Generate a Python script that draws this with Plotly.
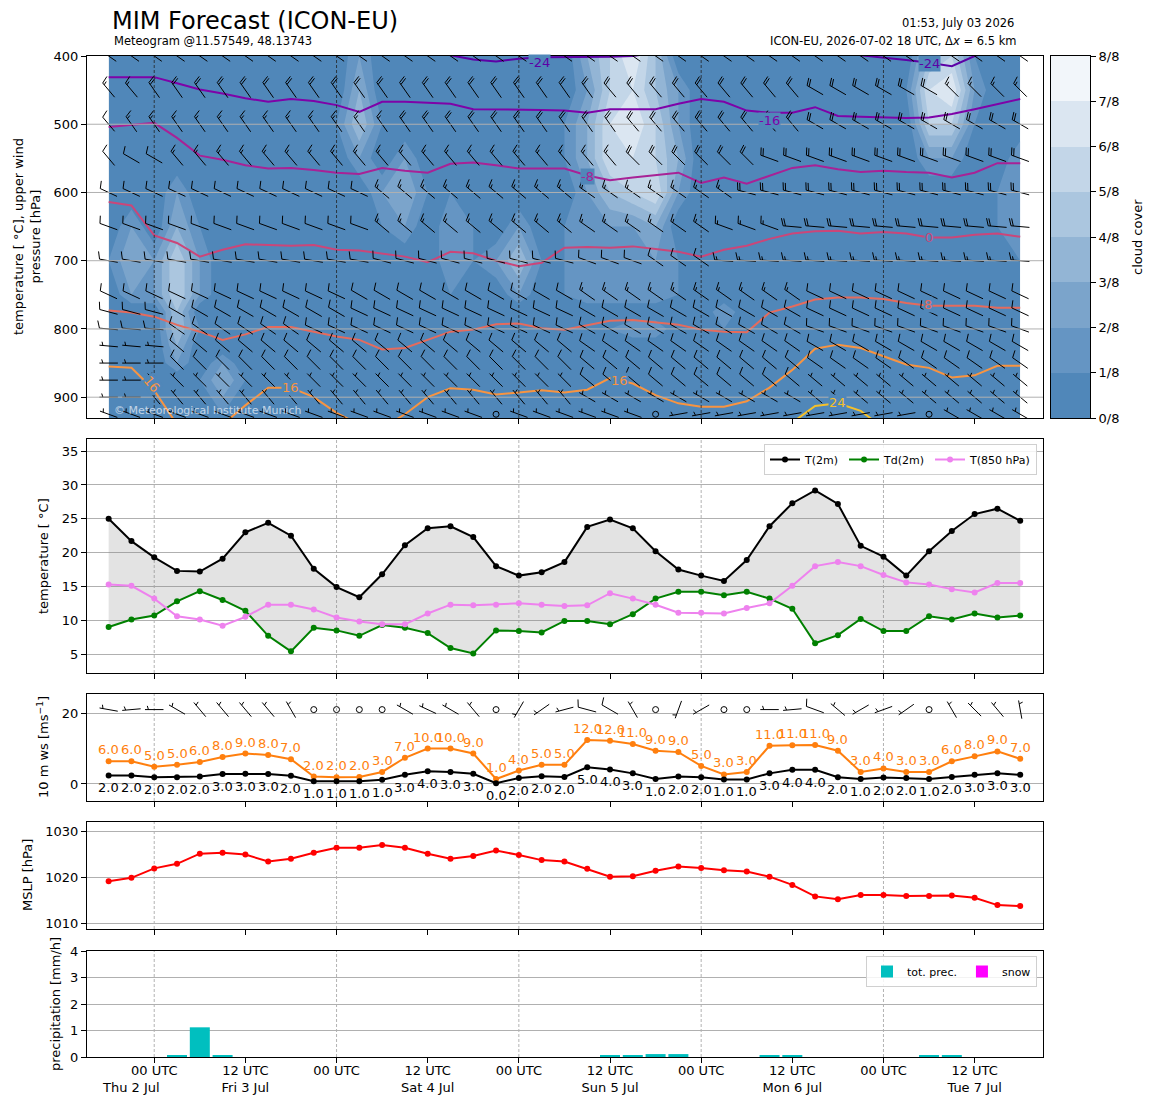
import numpy as np
import pandas as pd
import plotly.graph_objects as go

# ------------------------------------------------------------------ data
valid_times = pd.date_range("2026-07-02 18:00", periods=41, freq="3h")
ref_time = pd.Timestamp("2026-07-03 00:00")

t2m = [25.0, 21.7, 19.3, 17.3, 17.2, 19.1, 23.0, 24.4, 22.5, 17.6,
       14.9, 13.4, 16.8, 21.1, 23.6, 23.9, 22.3, 18.0, 16.6, 17.1,
       18.6, 23.8, 24.9, 23.6, 20.2, 17.5, 16.6, 15.8, 18.9, 23.9,
       27.3, 29.2, 27.2, 21.0, 19.4, 16.6, 20.2, 23.2, 25.7, 26.5, 24.7]
td2m = [9.0, 10.1, 10.7, 12.8, 14.3, 13.0, 11.4, 7.7, 5.4, 8.9,
        8.5, 7.7, 9.3, 8.9, 8.1, 5.9, 5.1, 8.5, 8.4, 8.2,
        9.9, 9.9, 9.4, 10.9, 13.2, 14.2, 14.2, 13.7, 14.2, 13.2,
        11.7, 6.6, 7.8, 10.2, 8.4, 8.4, 10.6, 10.1, 11.0, 10.4, 10.7]
t850 = [15.3, 15.1, 13.2, 10.6, 10.1, 9.2, 10.5, 12.3, 12.3, 11.6,
        10.4, 9.8, 9.4, 9.4, 11.0, 12.3, 12.2, 12.3, 12.5, 12.3,
        12.1, 12.2, 14.0, 13.2, 12.3, 11.1, 11.1, 11.0, 11.8, 12.5,
        15.1, 18.0, 18.6, 18.0, 16.7, 15.6, 15.3, 14.6, 14.1, 15.5, 15.5]

ws10_mean = [2.4, 2.4, 1.9, 1.9, 2.1, 2.8, 2.9, 2.8, 2.3, 0.8,
             0.8, 0.8, 1.2, 2.6, 3.6, 3.4, 2.9, 0.2, 1.7, 2.2,
             2.0, 4.7, 4.1, 3.0, 1.4, 2.1, 1.9, 1.3, 1.3, 3.0,
             4.0, 4.0, 1.9, 1.4, 1.8, 1.7, 1.4, 2.0, 2.6, 3.0, 2.6]
ws10_gust = [6.4, 6.4, 4.9, 5.4, 6.2, 7.6, 8.6, 8.2, 7.0, 2.1,
             1.9, 2.0, 3.4, 7.4, 10.0, 10.0, 8.6, 1.4, 3.8, 5.4,
             5.4, 12.4, 12.2, 11.3, 9.4, 9.0, 5.1, 2.7, 3.4, 10.8,
             10.9, 11.0, 9.4, 3.4, 4.4, 3.4, 3.4, 6.4, 7.8, 9.2, 7.1]
# 10 m wind barbs: direction [deg] and speed [kt]
wind10_dir = [280, 265, 270, 300, 320, 320, 320, 320, 330, 0,
              0, 0, 0, 300, 295, 300, 320, 0, 210, 235,
              255, 285, 300, 330, 0, 200, 240, 0, 0, 270,
              265, 290, 310, 240, 250, 235, 0, 330, 315, 320, 350]
wind10_kt = [5, 5, 5, 5, 5, 5, 5, 5, 5, 0,
             0, 0, 0, 5, 5, 5, 5, 0, 5, 5,
             5, 10, 10, 5, 0, 5, 5, 0, 0, 5,
             5, 10, 5, 5, 5, 5, 0, 5, 5, 5, 5]

mslp = [1019.1, 1019.85, 1021.9, 1022.9, 1025.1, 1025.3, 1024.9, 1023.4, 1024.0, 1025.3,
        1026.4, 1026.4, 1027.0, 1026.4, 1025.1, 1024.0, 1024.6, 1025.8, 1024.8, 1023.7,
        1023.4, 1021.8, 1020.1, 1020.2, 1021.4, 1022.3, 1022.0, 1021.5, 1021.2, 1020.1,
        1018.3, 1015.8, 1015.2, 1016.1, 1016.1, 1015.9, 1015.9, 1016.0, 1015.5, 1013.9, 1013.7]

precip_total = [0, 0, 0, 0.04, 1.12, 0.04, 0, 0, 0, 0,
                0, 0, 0, 0, 0, 0, 0, 0, 0, 0,
                0, 0, 0.04, 0.04, 0.11, 0.11, 0, 0, 0, 0.04,
                0.04, 0, 0, 0, 0, 0, 0.04, 0.04, 0, 0, 0]
precip_snow = [0, 0, 0, 0, 0, 0, 0, 0, 0, 0,
               0, 0, 0, 0, 0, 0, 0, 0, 0, 0,
               0, 0, 0, 0, 0, 0, 0, 0, 0, 0,
               0, 0, 0, 0, 0, 0, 0, 0, 0, 0, 0]

# isotherms: pressure [hPa] of each temperature level per valid time
isotherms = {
    -24: [390, 390, 390, 390, 390, 390, 390, 390, 390, 390,
          390, 390, 390, 390, 390, 399, 405, 408, 404, 402,
          402, 402, 401, 400, 395, 390, 390, 390, 390, 390,
          390, 390, 390, 399, 402, 406, 410, 415, 400, 390, 390],
    -16: [431, 431, 431, 440, 449, 455, 462, 467, 463, 466,
          472, 482, 467, 467, 468, 470, 478, 478, 478, 479,
          480, 483, 478, 478, 478, 470, 463, 467, 480, 483,
          483, 475, 488, 489, 490, 491, 490, 485, 478, 470, 463],
    -8: [504, 501, 498, 520, 546, 552, 560, 565, 564, 567,
         571, 573, 564, 568, 571, 558, 556, 560, 565, 565,
         565, 575, 582, 578, 575, 571, 586, 578, 587, 575,
         564, 560, 566, 570, 568, 570, 571, 578, 571, 557, 557],
    0: [614, 619, 663, 674, 694, 684, 676, 677, 678, 677,
        684, 685, 690, 694, 702, 687, 689, 700, 708, 703,
        681, 680, 681, 679, 683, 687, 694, 684, 678, 668,
        660, 657, 656, 660, 658, 660, 666, 666, 662, 660, 665],
    8: [773, 776, 782, 794, 804, 816, 808, 797, 797, 804,
        811, 816, 830, 828, 816, 804, 801, 793, 792, 799,
        801, 794, 788, 787, 790, 794, 801, 804, 805, 776,
        767, 757, 754, 754, 756, 762, 766, 766, 766, 769, 769],
    16: [855, 857, 890, 940, 950, 940, 912, 886, 886, 900,
         923, 940, 945, 925, 900, 887, 889, 896, 893, 890,
         893, 889, 872, 880, 897, 909, 914, 914, 906, 886,
         860, 829, 823, 828, 840, 852, 857, 871, 868, 854, 854],
    24: [950, 950, 950, 950, 950, 950, 950, 950, 950, 950,
         950, 950, 950, 950, 950, 950, 950, 950, 950, 950,
         950, 950, 950, 950, 950, 950, 950, 950, 950, 950,
         937, 913, 909, 920, 945, 950, 950, 950, 950, 950, 950],
}
isotherm_colors = {-24: "#5c01a6", -16: "#7e03a8", -8: "#a82296", 0: "#cb4679",
                   8: "#e56b5d", 16: "#f89441", 24: "#f4c02a"}
# contour labels: (temperature, valid-time index, pressure, angle)
isotherm_labels = [(-24, 18.9, 410, 0), (-24, 36.0, 411, 0), (-16, 29.0, 494, 0),
                   (-8, 21.0, 577, 0), (0, 36.0, 666, 0), (8, 35.95, 764, 0),
                   (16, 1.9, 882, 50), (16, 8.0, 886, 0), (16, 22.4, 875, 0),
                   (24, 32.0, 908, 0)]

# cloud cover [octas], sparse cells: (valid-time index, pressure, octas)
cloud_levels = [400, 450, 500, 550, 600, 650, 700, 750, 775, 800, 825, 850, 875, 900, 925, 950]
cloud_cells = [
    (0, 700, 1), (1, 650, 2), (1, 700, 3), (1, 750, 2),
    (2, 700, 2), (2, 750, 2), (3, 600, 2), (3, 650, 3), (3, 700, 5), (3, 750, 5),
    (3, 775, 4), (3, 800, 4), (3, 825, 3), (3, 850, 2), (4, 650, 1), (4, 700, 2),
    (4, 750, 2), (4, 800, 1),
    (5, 850, 2), (5, 875, 3), (5, 900, 2), (4, 875, 1), (6, 875, 1), (4, 925, 1), (5, 925, 1),
    (11, 400, 2), (11, 450, 3), (11, 500, 4), (11, 550, 2), (10, 500, 1), (12, 500, 1),
    (12, 600, 2), (13, 550, 2), (13, 600, 3), (13, 650, 2), (14, 600, 1), (12, 650, 1),
    (15, 600, 1), (15, 650, 2), (15, 700, 2), (16, 650, 1), (16, 700, 1), (15, 750, 1),
    (17, 700, 2), (18, 650, 2), (18, 700, 4), (18, 750, 2), (19, 700, 1),
    (20, 500, 1), (20, 550, 1), (20, 650, 1), (20, 700, 1), (20, 750, 1),
    (21, 400, 3), (21, 450, 2), (21, 500, 3), (21, 550, 3), (21, 600, 2), (21, 650, 2),
    (21, 700, 2), (21, 750, 2),
    (22, 400, 5), (22, 450, 5), (22, 500, 6), (22, 550, 6), (22, 600, 4), (22, 650, 2),
    (22, 700, 2), (22, 750, 2), (22, 800, 1), (22, 850, 1),
    (23, 400, 7), (23, 450, 6), (23, 500, 7), (23, 550, 6), (23, 600, 5), (23, 650, 2),
    (23, 700, 2), (23, 750, 2), (23, 800, 2),
    (24, 400, 4), (24, 450, 4), (24, 500, 5), (24, 550, 5), (24, 600, 6), (24, 650, 3),
    (24, 700, 2), (24, 750, 2), (24, 800, 2), (24, 850, 1),
    (25, 450, 2), (25, 500, 2), (25, 550, 3), (25, 600, 2), (25, 700, 1), (25, 750, 1),
    (25, 850, 1), (26, 750, 1), (27, 775, 2), (27, 800, 1), (28, 800, 1),
    (35, 450, 1), (36, 400, 4), (36, 450, 6), (36, 500, 5), (36, 550, 2),
    (37, 400, 5), (37, 450, 7), (37, 500, 5), (37, 550, 2),
    (38, 400, 1), (38, 450, 2), (38, 500, 1),
    (39, 600, 1), (39, 650, 1), (40, 550, 2), (40, 600, 2), (40, 650, 2), (40, 700, 1),
    (39, 700, 1), (36, 700, 1),
]
cloud_colors = ["#5087b9", "#6595c3", "#7ba4cb", "#93b5d5",
                "#abc6df", "#c3d6e8", "#dbe6f1", "#f2f6fa"]
cloud_ticktext = ["0/8", "1/8", "2/8", "3/8", "4/8", "5/8", "6/8", "7/8", "8/8"]

# upper winds, run-length per level: (number of times, direction deg, speed kt)
upper_wind_runs = {
    400: [(41, 305, 25)],
    450: [(2, 320, 15), (20, 325, 20), (9, 320, 20), (6, 300, 20), (4, 315, 15)],
    500: [(1, 320, 10), (12, 325, 15), (10, 325, 20), (8, 320, 20), (10, 300, 20)],
    550: [(1, 320, 10), (2, 300, 10), (20, 320, 15), (6, 315, 20), (12, 290, 20)],
    600: [(12, 295, 10), (9, 310, 15), (7, 305, 15), (13, 285, 20)],
    650: [(12, 290, 10), (9, 310, 15), (6, 305, 15), (3, 290, 15), (11, 275, 20)],
    700: [(12, 280, 10), (9, 285, 10), (3, 290, 10), (3, 305, 10), (14, 275, 15)],
    750: [(11, 295, 10), (10, 300, 10), (10, 305, 15), (10, 295, 10)],
    775: [(3, 285, 10), (8, 300, 10), (10, 295, 10), (10, 300, 10), (10, 295, 10)],
    800: [(3, 275, 10), (6, 305, 10), (12, 295, 10), (10, 300, 10), (10, 290, 10)],
    825: [(3, 275, 5), (18, 310, 10), (10, 305, 10), (10, 300, 10)],
    850: [(3, 270, 5), (18, 315, 10), (10, 310, 10), (10, 305, 10)],
    875: [(2, 270, 5), (19, 315, 5), (10, 310, 10), (10, 310, 5)],
    900: [(2, 270, 5), (19, 320, 5), (10, 300, 5), (10, 310, 5)],
    925: [(17, 290, 5), (1, 0, 0), (6, 290, 5), (1, 0, 0), (11, 260, 5), (1, 0, 0), (4, 300, 5)],
}
wind10_level = 21

tick_times = pd.date_range("2026-07-03 00:00", periods=10, freq="12h")

# ------------------------------------------------------------------ layout constants
W, H = 1155, 1105
LM = 87
PLOT_RIGHT = 1043
CB_L, CB_R = 1051, 1090
panels_px = [(56, 418), (439, 673), (694, 801), (822, 929), (951, 1057)]
x_range = [-8.85, 117.0]
y_ranges = [[930.5, 400], [2.2, 36.8], [-4.8, 25.4], [1008.7, 1032.0], [0, 4]]
FONT = "DejaVu Sans"


def PX(x):
    return (x - LM) / (W - LM)


def PY(y):
    return 1 - y / H


hours = ((valid_times - ref_time) / pd.Timedelta(hours=1)).to_numpy()
tick_hours = ((tick_times - ref_time) / pd.Timedelta(hours=1)).to_numpy()
tick_text = ["00 UTC" if t.hour == 0 else f"12 UTC<br>{t:%a} {t.day} {t:%b}" for t in tick_times]
midnight_hours = [h for h, t in zip(tick_hours, tick_times) if t.hour == 0]

px_per_hour = (PLOT_RIGHT - LM) / (x_range[1] - x_range[0])


def px_per_unit(k):
    top, bot = panels_px[k]
    return (bot - top) / abs(y_ranges[k][0] - y_ranges[k][1])


# ------------------------------------------------------------------ wind barbs (matplotlib geometry)
BARB_LEN = 18.5


def barbs(xs, ys, dirs, speeds, ppx, ppy, y_down):
    L = BARB_LEN
    spacing, fh, fw = 0.125 * L, 0.4 * L, 0.25 * L
    lx, ly, cx, cy = [], [], [], []
    for x0, y0, d, s in zip(xs, ys, dirs, speeds):
        mag = 5 * np.round(s / 5.0)
        nbarb = int(mag // 10)
        half = (mag - 10 * nbarb) >= 5
        if nbarb == 0 and not half:
            cx.append(x0)
            cy.append(y0)
            continue
        rad = np.deg2rad(d)
        u, v = -np.sin(rad), -np.cos(rad)
        th = np.arctan2(v, u) + np.pi / 2
        c, sn = np.cos(th), np.sin(th)
        endy = -L / 2
        parts = [[(0, endy), (0, endy + L)]]
        offset = L
        for _ in range(nbarb):
            parts.append([(0, endy + offset), (fh, endy + offset + fw / 2)])
            offset -= spacing
        if half:
            if offset == L:
                offset -= 1.5 * spacing
            parts.append([(0, endy + offset), (fh / 2, endy + offset + fw / 4)])
        for part in parts:
            for bx, by in part:
                rx = bx * c - by * sn
                ry = bx * sn + by * c
                lx.append(x0 + rx / ppx)
                ly.append(y0 - ry / ppy if y_down else y0 + ry / ppy)
            lx.append(None)
            ly.append(None)
    return lx, ly, cx, cy


fig = go.Figure()

# ------------------------------------------------------------------ panel 1: cloud cover, isotherms, barbs
cloud_grid = np.zeros((len(cloud_levels), len(valid_times)))
for i, p, o in cloud_cells:
    cloud_grid[cloud_levels.index(p), i] = o
cscale = [[k / 7, c] for k, c in enumerate(cloud_colors)]
fig.add_trace(go.Contour(
    x=hours, y=cloud_levels, z=cloud_grid, xaxis="x", yaxis="y",
    autocontour=False, contours=dict(start=1, end=7, size=1, coloring="fill", showlines=False),
    colorscale=cscale, showscale=False, line=dict(width=0, smoothing=0), hoverinfo="skip"))

for T, plev in isotherms.items():
    fig.add_trace(go.Scatter(x=hours, y=plev, mode="lines", xaxis="x", yaxis="y",
                             line=dict(color=isotherm_colors[T], width=2),
                             showlegend=False, hoverinfo="skip"))

bx_all, by_all, cx_all, cy_all = [], [], [], []
for lev, runs in upper_wind_runs.items():
    dirs = [d for n, d, s in runs for _ in range(n)]
    spds = [s for n, d, s in runs for _ in range(n)]
    lx, ly, cx, cy = barbs(hours, [lev] * len(hours), dirs, spds, px_per_hour, px_per_unit(0), True)
    bx_all += lx
    by_all += ly
    cx_all += cx
    cy_all += cy
fig.add_trace(go.Scatter(x=bx_all, y=by_all, mode="lines", xaxis="x", yaxis="y",
                         line=dict(color="black", width=1), showlegend=False, hoverinfo="skip"))
fig.add_trace(go.Scatter(x=cx_all, y=cy_all, mode="markers", xaxis="x", yaxis="y",
                         marker=dict(symbol="circle-open", size=6, color="black", line=dict(width=1)),
                         showlegend=False, hoverinfo="skip"))

# colorbar as a small heatmap axis
fig.add_trace(go.Heatmap(x=[0], y=[k + 0.5 for k in range(8)], z=[[k] for k in range(8)],
                         xaxis="x6", yaxis="y6", colorscale=cscale, zmin=0, zmax=7,
                         showscale=False, hoverinfo="skip"))

# ------------------------------------------------------------------ panel 2: temperatures
fig.add_trace(go.Scatter(x=hours, y=td2m, mode="lines", xaxis="x2", yaxis="y2",
                         line=dict(width=0, color="rgba(0,0,0,0)"), showlegend=False, hoverinfo="skip"))
fig.add_trace(go.Scatter(x=hours, y=t2m, mode="lines", xaxis="x2", yaxis="y2", fill="tonexty",
                         fillcolor="rgba(128,128,128,0.22)", line=dict(width=0, color="rgba(0,0,0,0)"),
                         showlegend=False, hoverinfo="skip"))
for name, vals, col in [("T(2m)", t2m, "black"), ("Td(2m)", td2m, "green"), ("T(850 hPa)", t850, "violet")]:
    fig.add_trace(go.Scatter(x=hours, y=vals, mode="lines+markers", name=name, xaxis="x2", yaxis="y2",
                             line=dict(color=col, width=2), marker=dict(size=6, color=col),
                             legend="legend", hoverinfo="skip"))

# ------------------------------------------------------------------ panel 3: 10 m wind
fig.add_trace(go.Scatter(x=hours, y=ws10_gust, mode="lines+markers", xaxis="x3", yaxis="y3",
                         line=dict(color="#ff7f0e", width=2), marker=dict(size=6, color="#ff7f0e"),
                         showlegend=False, hoverinfo="skip"))
fig.add_trace(go.Scatter(x=hours, y=ws10_mean, mode="lines+markers", xaxis="x3", yaxis="y3",
                         line=dict(color="black", width=2), marker=dict(size=6, color="black"),
                         showlegend=False, hoverinfo="skip"))
lx, ly, cx, cy = barbs(hours, [wind10_level] * len(hours), wind10_dir, wind10_kt,
                       px_per_hour, px_per_unit(2), False)
fig.add_trace(go.Scatter(x=lx, y=ly, mode="lines", xaxis="x3", yaxis="y3",
                         line=dict(color="black", width=1), showlegend=False, hoverinfo="skip"))
fig.add_trace(go.Scatter(x=cx, y=cy, mode="markers", xaxis="x3", yaxis="y3",
                         marker=dict(symbol="circle-open", size=6, color="black", line=dict(width=1)),
                         showlegend=False, hoverinfo="skip"))

# ------------------------------------------------------------------ panel 4: MSLP
fig.add_trace(go.Scatter(x=hours, y=mslp, mode="lines+markers", xaxis="x4", yaxis="y4",
                         line=dict(color="red", width=2), marker=dict(size=6, color="red"),
                         showlegend=False, hoverinfo="skip"))

# ------------------------------------------------------------------ panel 5: precipitation
bar_w = 20 / px_per_hour
fig.add_trace(go.Bar(x=hours, y=precip_total, width=bar_w, name="tot. prec.", xaxis="x5", yaxis="y5",
                     marker=dict(color="#00bfbf", line=dict(width=0)), legend="legend2", hoverinfo="skip"))
fig.add_trace(go.Bar(x=hours, y=precip_snow, width=bar_w, name="snow", xaxis="x5", yaxis="y5",
                     marker=dict(color="#ff00ff", line=dict(width=0)), legend="legend2", hoverinfo="skip"))

# ------------------------------------------------------------------ axes
tickfont = dict(family=FONT, size=13, color="black")
layout_axes = {}
for k in range(5):
    sfx = "" if k == 0 else str(k + 1)
    top, bot = panels_px[k]
    layout_axes["xaxis" + sfx] = dict(
        domain=[0, PX(PLOT_RIGHT)], range=x_range, anchor="y" + sfx,
        tickmode="array", tickvals=tick_hours, ticktext=tick_text,
        ticks="outside", ticklen=5, tickcolor="black", tickwidth=1, ticklabelstandoff=-4,
        showticklabels=(k == 4), tickfont=tickfont, showgrid=False, zeroline=False,
        showline=True, mirror=True, linecolor="black", linewidth=1, automargin=False)
    layout_axes["yaxis" + sfx] = dict(
        domain=[PY(bot), PY(top)], range=y_ranges[k], anchor="x" + sfx,
        ticks="outside", ticklen=5, tickcolor="black", tickwidth=1, tickfont=tickfont,
        showgrid=(k != 0), gridcolor="#b0b0b0", gridwidth=1, zeroline=False,
        showline=True, mirror=True, linecolor="black", linewidth=1, automargin=False)
layout_axes["yaxis"].update(tickmode="array", tickvals=[400, 500, 600, 700, 800, 900])
layout_axes["yaxis2"].update(tickmode="array", tickvals=[5, 10, 15, 20, 25, 30, 35])
layout_axes["yaxis3"].update(tickmode="array", tickvals=[0, 20])
layout_axes["yaxis4"].update(tickmode="array", tickvals=[1010, 1020, 1030])
layout_axes["yaxis5"].update(tickmode="array", tickvals=[0, 1, 2, 3, 4])
layout_axes["xaxis6"] = dict(domain=[PX(CB_L), PX(CB_R)], range=[-0.5, 0.5], anchor="y6",
                             showticklabels=False, ticks="", showgrid=False, zeroline=False,
                             showline=True, mirror=True, linecolor="black", linewidth=1)
layout_axes["yaxis6"] = dict(domain=[PY(panels_px[0][1]), PY(panels_px[0][0])], range=[0, 8],
                             anchor="x6", side="right", tickmode="array", tickvals=list(range(9)),
                             ticktext=cloud_ticktext, ticks="outside", ticklen=5, tickcolor="black",
                             tickfont=tickfont, showgrid=False, zeroline=False, showline=True,
                             mirror=True, linecolor="black", linewidth=1)

# ------------------------------------------------------------------ shapes (grid drawn over the cloud field)
shapes = []
for p in layout_axes["yaxis"]["tickvals"][1:]:
    shapes.append(dict(type="line", xref="x domain", yref="y", x0=0, x1=1, y0=p, y1=p,
                       line=dict(color="#b0b0b0", width=1), layer="above"))
for k in range(5):
    sfx = "" if k == 0 else str(k + 1)
    for h in midnight_hours:
        shapes.append(dict(type="line", xref="x" + sfx, yref="y" + sfx + " domain", x0=h, x1=h, y0=0, y1=1,
                           line=dict(color="#222222" if k == 0 else "#a0a0a0", width=0.8, dash="3px,2px"),
                           layer="above" if k == 0 else "below"))

# ------------------------------------------------------------------ annotations
ann = []


def text(x, y, s, size=13, color="black", xanchor="center", yanchor="middle", angle=0, **kw):
    d = dict(x=x, y=y, xref="paper", yref="paper", text=s, showarrow=False, xanchor=xanchor,
             yanchor=yanchor, textangle=angle, font=dict(family=FONT, size=size, color=color))
    d.update(kw)
    ann.append(d)


text(PX(110), PY(21), "MIM Forecast (ICON-EU)", size=24, xanchor="left")
text(PX(112), PY(41), "Meteogram @11.57549, 48.13743", size=11.5, xanchor="left")
text(PX(1016), PY(23), "01:53, July 03 2026", size=11.5, xanchor="right")
text(PX(1019), PY(41), "ICON-EU, 2026-07-02 18 UTC, Δ<i>x</i> = 6.5 km", size=11.5, xanchor="right")

text(PX(27), PY(237), "temperature [ °C], upper wind<br>pressure [hPa]", angle=-90)
text(PX(43), PY(556), "temperature [ °C]", angle=-90)
text(PX(43), PY(747), "10 m ws [ms<sup>−1</sup>]", angle=-90)
text(PX(27), PY(875), "MSLP [hPa]", angle=-90)
text(PX(55), PY(1004), "precipitation [mm/h]", angle=-90)
text(PX(1137), PY(237), "cloud cover", angle=-90)
text(PX(112), PY(410), "© Meteorological Institute Munich", size=11, color="rgba(235,240,247,0.75)",
     xanchor="left")
first = valid_times[0]
ann.append(dict(x=hours[1], y=PY(1087), xref="x5", yref="paper", showarrow=False, yanchor="middle",
                text=f"{first:%a} {first.day} {first:%b}", font=dict(family=FONT, size=13, color="black")))

for T, idx, p, ang in isotherm_labels:
    ann.append(dict(x=hours[0] + 3 * idx, y=p, xref="x", yref="y", text=str(T), showarrow=False,
                    textangle=ang, bgcolor=cloud_colors[0], borderpad=0,
                    font=dict(family=FONT, size=13, color=isotherm_colors[T])))

for h, g, m in zip(hours, ws10_gust, ws10_mean):
    ann.append(dict(x=h, y=g, xref="x3", yref="y3", text=f"{round(g):.1f}", showarrow=False,
                    yanchor="bottom", yshift=2, font=dict(family=FONT, size=13, color="#ff7f0e")))
    ann.append(dict(x=h, y=m, xref="x3", yref="y3", text=f"{round(m):.1f}", showarrow=False,
                    yanchor="top", yshift=-3, font=dict(family=FONT, size=13, color="black")))

legend_style = dict(xanchor="right", yanchor="top", orientation="h", traceorder="normal",
                    bgcolor="rgba(255,255,255,0.85)", bordercolor="#d0d0d0", borderwidth=1,
                    font=dict(family=FONT, size=11, color="black"))

fig.update_layout(
    width=W, height=H, template="none",
    margin=dict(l=LM, r=0, t=0, b=0, pad=0),
    paper_bgcolor="white", plot_bgcolor="white",
    font=dict(family=FONT, size=13, color="black"),
    showlegend=True, barmode="overlay", hovermode=False,
    legend=dict(x=PX(1037), y=PY(444), **legend_style),
    legend2=dict(x=PX(1037), y=PY(956), **legend_style),
    shapes=shapes, annotations=ann,
    **layout_axes)

fig.write_html("out.html", config={"displayModeBar": False},
               post_script="document.body.style.margin='0';document.body.style.overflow='hidden';")
